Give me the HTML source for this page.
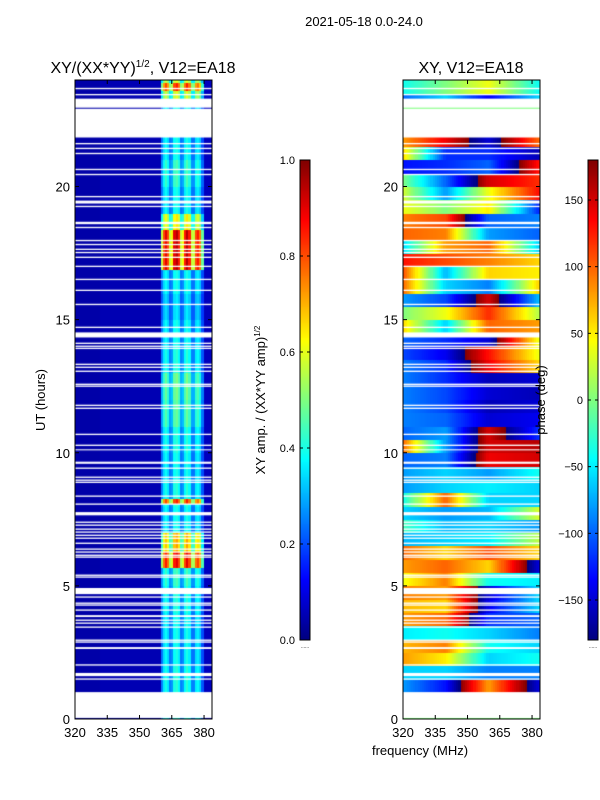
<!DOCTYPE html>
<html><head><meta charset="utf-8">
<style>
body{margin:0;background:#fff;width:600px;height:800px;overflow:hidden;position:relative;font-family:"Liberation Sans",sans-serif}
canvas{position:absolute}
svg{position:absolute;left:0;top:0}
text{font-family:"Liberation Sans",sans-serif;fill:#000}
</style></head>
<body>
<canvas id="c1" width="137" height="639" style="left:75px;top:80px"></canvas>
<canvas id="c2" width="137" height="639" style="left:403px;top:80px"></canvas>
<canvas id="cb1" width="10" height="480" style="left:300px;top:160px"></canvas>
<canvas id="cb2" width="10" height="480" style="left:588px;top:160px"></canvas>
<svg id="ov" width="600" height="800"></svg>
<script>
// ---------- data ----------
const freqStart = 320, freqEnd = 383.7, hourMax = 24;
const channels = [];
for (let f = 320; f < 384; f++) channels.push(f);
// amplitude per channel (relative)
const colAmp = [
 0.04,0.04,0.04,0.04,0.04,0.04,0.04,0.04,0.04,0.04,
 0.04,0.04,0.05,0.05,0.05,0.05,0.05,0.05,0.05,0.05,
 0.05,0.05,0.05,0.05,0.05,0.05,0.05,0.05,0.05,0.05,
 0.05,0.05,0.05,0.05,0.05,0.05,0.05,0.05,0.05,0.05,
 0.6,0.85,0.95,0.85,0.6,
 0.65,0.95,1.0,0.9,0.6,
 0.65,0.9,1.0,0.9,0.6,
 0.6,0.85,0.9,0.8,0.5,
 0.06,0.06,0.06,0.06];
// band gain per hour (0..23)
const rowGain = [0.42,0.42,0.4,0.4,0.42,0.45,0.72,0.4,0.42,0.4,0.42,0.48,0.5,0.42,0.4,0.36,0.4,0.8,0.65,0.4,0.45,0.4,0.4,0.6];
const hotStart = [5.7,8.1,16.9,23.6];
const hotEnd   = [6.3,8.3,18.4,23.9];
const hotGain  = [0.9,0.85,0.95,0.85];
// phase anchors (deg) per half hour, at freqs 320,340,360,383
const phaseFreqs = [320,340,360,383];
const phaseA = [0,0,-80,-60,80,70,-50,80,70,90,40,80,100,-70,-20,-60,-40,-80,-80,-100,100,-100,-90,-90,-90,-90,-90,-110,-100,60,0,-80,100,110,130,-60,100,90,40,30,0,-130,60,80,0,0,-100,-40];
const phaseB = [0,0,-130,-60,50,90,-40,100,60,80,90,100,60,-60,-70,-80,100,-60,-60,-90,-80,-80,-100,-110,-110,-120,-120,-140,-120,-60,40,-110,-60,-70,110,80,90,110,0,-80,-100,-120,-120,140,0,0,-60,0];
const phaseC = [0,0,80,-90,-60,-40,-60,-120,-140,-150,-40,60,110,-50,-60,-70,-60,-50,-80,140,150,150,-150,-160,-150,-160,140,130,-150,100,120,150,-90,60,90,100,-80,-100,50,40,150,-100,-120,-150,0,0,-140,40];
const phaseD = [0,0,-150,-90,-40,-60,-90,-100,-60,-60,-50,-150,60,20,-80,30,-60,-60,-40,150,160,-120,-140,-150,-160,-150,60,40,40,80,20,-70,60,50,60,-60,-100,-90,-120,130,120,130,-160,100,0,0,-60,-40];
// flagged (white) rows
const gapLines = [23.68,23.45,21.61,21.43,21.24,20.64,20.45,19.62,19.25,18.65,18.61,18.46,17.97,17.82,17.64,17.52,17.34,17.0,16.51,16.10,15.57,14.71,14.11,14.0,13.92,13.32,13.21,13.06,12.57,12.50,11.78,11.67,10.69,10.28,9.64,9.61,9.42,9.08,8.97,8.89,8.37,8.07,7.39,7.28,7.13,7.02,6.90,6.79,6.60,6.38,6.27,6.15,6.08,5.40,5.33,4.58,4.35,4.28,4.09,3.71,3.60,3.45,2.96,2.89,2.03,1.50];
const gapStart = [22.96,21.84,19.36,14.33,10.09,7.65,4.69,3.83,2.63,1.61,0.04];
const gapEnd   = [23.30,22.92,19.47,14.52,10.13,7.77,4.92,3.90,2.70,1.73,1.01];
const yTicks = [0,5,10,15,20];
const xTicks = [320,335,350,365,380];
const cb1Ticks = [0.0,0.2,0.4,0.6,0.8,1.0];
const cb2Ticks = [-150,-100,-50,0,50,100,150];

// ---------- scales ----------
const W = 137, H = 639;
const xs = f => (f - freqStart) / (freqEnd - freqStart) * W;
const ys = h => H - h / hourMax * H;
function jet(v){v=Math.max(0,Math.min(1,v));const c=t=>Math.round(255*Math.max(0,Math.min(1,1.5-Math.abs(4*v-t))));return `rgb(${c(3)},${c(2)},${c(1)})`;}
function ampAt(ci,h){
  const hi=Math.min(23,Math.floor(h));
  let g=rowGain[hi];
  for(let k=0;k<hotStart.length;k++) if(h>=hotStart[k]&&h<hotEnd[k]) g=hotGain[k];
  const a=colAmp[ci];
  return a<0.2?a:a*g;
}
function phaseAt(f,h){
  const r=Math.min(47,Math.floor(h*2));
  const vals=[phaseA[r],phaseB[r],phaseC[r],phaseD[r]];
  let k=0; while(k<phaseFreqs.length-2&&f>phaseFreqs[k+1])k++;
  const t=Math.max(0,Math.min(1,(f-phaseFreqs[k])/(phaseFreqs[k+1]-phaseFreqs[k])));
  let d=vals[k+1]-vals[k]; if(d>180)d-=360; if(d<-180)d+=360;
  let p=vals[k]+d*t; if(p>180)p-=360; if(p<-180)p+=360;
  return p;
}
function drawHeat(id,fn){
  const ctx=document.getElementById(id).getContext('2d');
  const dh=0.1;
  for(let h=0;h<hourMax;h+=dh){
    for(let ci=0;ci<channels.length;ci++){
      const f=channels[ci];
      ctx.fillStyle=jet(fn(ci,f,h+dh/2));
      const x0=xs(f),x1=xs(f+1),y0=ys(h+dh),y1=ys(h);
      ctx.fillRect(Math.floor(x0),Math.floor(y0),Math.ceil(x1)-Math.floor(x0),Math.ceil(y1)-Math.floor(y0));
    }
  }
  ctx.fillStyle='#fff';
  gapLines.forEach(g=>{ctx.fillRect(0,ys(g+0.025),W,Math.max(1.3,ys(g-0.025)-ys(g+0.025)));});
  for(let k=0;k<gapStart.length;k++){ctx.fillRect(0,ys(gapEnd[k]),W,ys(gapStart[k])-ys(gapEnd[k]));}
}
drawHeat('c1',(ci,f,h)=>ampAt(ci,h));
drawHeat('c2',(ci,f,h)=>(phaseAt(f+0.5,h)+180)/360);
['cb1','cb2'].forEach(id=>{const ctx=document.getElementById(id).getContext('2d');for(let y=0;y<480;y++){ctx.fillStyle=jet(1-y/479);ctx.fillRect(0,y,10,1);}});

// ---------- overlay ----------
const svg=document.getElementById('ov');const NS='http://www.w3.org/2000/svg';
function el(tag,attrs,txt){const e=document.createElementNS(NS,tag);for(const k in attrs)e.setAttribute(k,attrs[k]);if(txt!==undefined)e.textContent=txt;svg.appendChild(e);return e;}
function axes(x0,name){
  const r=el('rect',{x:x0,y:80,width:W,height:H,fill:'none',stroke:'#000','stroke-width':1});
  
  
  yTicks.forEach(v=>{const y=80+ys(v);
    el('line',{x1:x0,x2:x0+4,y1:y,y2:y,stroke:'#000'});el('line',{x1:x0+W-4,x2:x0+W,y1:y,y2:y,stroke:'#000'});
    const t=el('text',{x:x0-5,y:y+5,'text-anchor':'end','font-size':13},String(v));
    
    });
  xTicks.forEach(v=>{const x=x0+xs(v);
    el('line',{x1:x,x2:x,y1:80,y2:84,stroke:'#000'});el('line',{x1:x,x2:x,y1:715,y2:719,stroke:'#000'});
    const t=el('text',{x:x,y:737,'text-anchor':'middle','font-size':13},String(v));
    
    });
}
axes(75,'amplitude-axes');axes(403,'phase-axes');
function cbar(x0,ticks,lo,hi,name,fmt){
  const r=el('rect',{x:x0,y:160,width:10,height:480,fill:'none',stroke:'#000'});
  
  
  ticks.forEach(v=>{const y=640-(v-lo)/(hi-lo)*480;
    el('line',{x1:x0,x2:x0+3,y1:y,y2:y,stroke:'#000'});el('line',{x1:x0+7,x2:x0+10,y1:y,y2:y,stroke:'#000'});
    const t=el('text',{x:x0-5,y:y+4,'text-anchor':'end','font-size':11},fmt(v));
    
    });
  el('text',{x:x0+5,y:648,'text-anchor':'middle','font-size':5,fill:'#777'},'......');
}
cbar(300,cb1Ticks,0,1,'amplitude-colorbar',v=>v.toFixed(1));
cbar(588,cb2Ticks,-180,180,'phase-colorbar',v=>String(v).replace('-','\u2212'));
</script>
<svg width="600" height="800" style="pointer-events:none">
<text x="364" y="26" text-anchor="middle" font-size="13">2021-05-18 0.0-24.0</text>
<text x="143" y="73" text-anchor="middle" font-size="16">XY/(XX*YY)<tspan font-size="10" dy="-6">1/2</tspan><tspan dy="6">, V12=EA18</tspan></text>
<text x="471" y="73" text-anchor="middle" font-size="16">XY, V12=EA18</text>
<text x="45" y="400" text-anchor="middle" font-size="13" transform="rotate(-90 45 400)">UT (hours)</text>
<text x="420" y="755" text-anchor="middle" font-size="13">frequency (MHz)</text>
<text x="265" y="400" text-anchor="middle" font-size="13" transform="rotate(-90 265 400)">XY amp. / (XX*YY amp)<tspan font-size="8" dy="-5">1/2</tspan></text>
<text x="545" y="400" text-anchor="middle" font-size="13" transform="rotate(-90 545 400)">phase (deg)</text>
</svg>
</body></html>
